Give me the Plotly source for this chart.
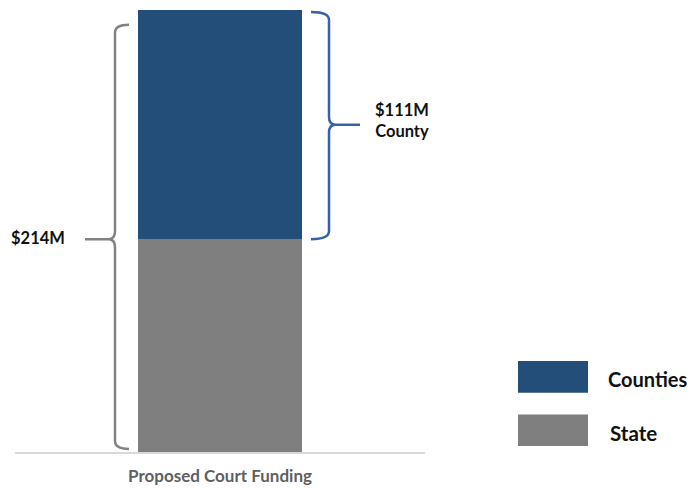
import plotly.graph_objects as go

categories = ["Proposed Court Funding"]
state_values = [103]
county_values = [111]
total_label = "$214M"
county_label = "$111M<br>County"
legend_names = ["Counties", "State"]

BLUE = "#234e79"
GRAY = "#7f7f7f"
BRACE_BLUE = "#3660a8"
BRACE_GRAY = "#828282"
FONT = "Lato"

OFF = 8  # page body margin
W, H = 698 - OFF, 488 - OFF
L, R, T, B = 15 - OFF, 273, 10 - OFF, 31
total = state_values[0] + county_values[0]

fig = go.Figure()
fig.add_trace(go.Bar(x=[0], y=state_values, width=0.4, marker=dict(color=GRAY, line=dict(width=0)),
                     name=legend_names[1], showlegend=False))
fig.add_trace(go.Bar(x=[0], y=county_values, width=0.4, marker=dict(color=BLUE, line=dict(width=0)),
                     name=legend_names[0], showlegend=False))

# helpers: reference-image pixel -> paper coords
pw = W - L - R
ph = H - T - B
def px(xp):
    return (xp - OFF - L) / pw
def py_val(v):
    return OFF + T + ph * (1 - v / total)
def py(yp):
    return 1 - (yp - OFF - T) / ph

def brace_path(xv, xh, y_top, y_bot, y_mid, xtip, r=8, side=-1):
    p = []
    p.append(f"M {px(xh)},{py(y_top)}")
    p.append(f"Q {px(xv)},{py(y_top)} {px(xv)},{py(y_top + r)}")
    p.append(f"L {px(xv)},{py(y_mid - r)}")
    p.append(f"Q {px(xv)},{py(y_mid)} {px(xv + side * r * 0.8)},{py(y_mid)}")
    p.append(f"L {px(xtip)},{py(y_mid)}")
    p.append(f"M {px(xv + side * r * 0.8)},{py(y_mid)}")
    p.append(f"Q {px(xv)},{py(y_mid)} {px(xv)},{py(y_mid + r)}")
    p.append(f"L {px(xv)},{py(y_bot - r)}")
    p.append(f"Q {px(xv)},{py(y_bot)} {px(xh)},{py(y_bot)}")
    return " ".join(p)

split_px = py_val(state_values[0])
top_px = py_val(total)
base_px = py_val(0)

shapes = [
    dict(type="path", xref="paper", yref="paper",
         path=brace_path(115, 129, top_px + 15, base_px - 3, split_px, 85, side=-1),
         line=dict(color=BRACE_GRAY, width=2.5)),
    dict(type="path", xref="paper", yref="paper",
         path=brace_path(329, 311, top_px + 2, split_px, (top_px + split_px) / 2, 360, side=1),
         line=dict(color=BRACE_BLUE, width=2.5)),
    dict(type="rect", xref="paper", yref="paper", x0=px(518), x1=px(588), y0=py(365), y1=py(397),
         fillcolor=BLUE, line=dict(width=0)),
    dict(type="rect", xref="paper", yref="paper", x0=px(518), x1=px(588), y0=py(419), y1=py(451),
         fillcolor=GRAY, line=dict(width=0)),
]

annotations = [
    dict(text=f"<b>{total_label}</b>", xref="paper", yref="paper", x=px(9), y=py(241),
         xanchor="left", yanchor="middle", showarrow=False, font=dict(family=FONT, size=16.5, color="#111")),
    dict(text=f"<b>{county_label}</b>", xref="paper", yref="paper", x=px(402), y=py(122),
         xanchor="center", yanchor="middle", showarrow=False, align="center",
         font=dict(family=FONT, size=16.5, color="#111")),
    dict(text=f"<b>{legend_names[0]}</b>", xref="paper", yref="paper", x=px(606), y=py(383),
         xanchor="left", yanchor="middle", showarrow=False, font=dict(family=FONT, size=20, color="#111")),
    dict(text=f"<b>{legend_names[1]}</b>", xref="paper", yref="paper", x=px(608), y=py(438),
         xanchor="left", yanchor="middle", showarrow=False, font=dict(family=FONT, size=20.5, color="#111")),
]

fig.update_layout(
    width=W, height=H, barmode="stack",
    margin=dict(l=L, r=R, t=T, b=B),
    paper_bgcolor="white", plot_bgcolor="white",
    showlegend=False,
    shapes=shapes, annotations=annotations,
    xaxis=dict(range=[-0.5, 0.5], tickvals=[0], ticktext=[f"<b>{categories[0]}</b>"],
               tickfont=dict(family=FONT, size=17, color="#5f5f5f"),
               showgrid=False, zeroline=False, showline=True, linecolor="#d9d9d9", linewidth=2,
               ticks="outside", ticklen=8, tickcolor="rgba(0,0,0,0)", fixedrange=True),
    yaxis=dict(range=[0, total], visible=False, showgrid=False, zeroline=False, fixedrange=True),
)

fig.write_html("out.html")
